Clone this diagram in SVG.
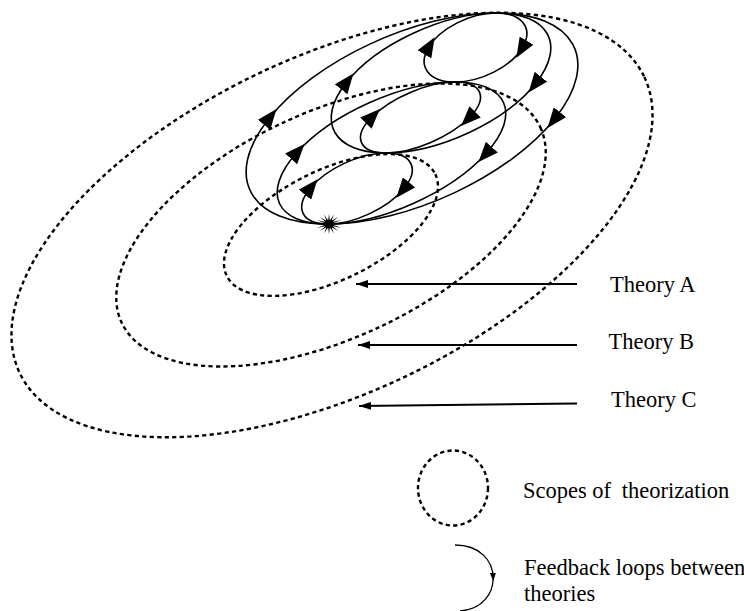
<svg xmlns="http://www.w3.org/2000/svg" width="744" height="611" viewBox="0 0 744 611">
<style>
.scope{fill:none;stroke:#000;stroke-width:2.4;stroke-dasharray:4.2 3.3}
.loop{fill:none;stroke:#000;stroke-width:1.6;marker-mid:url(#loopArrow)}
.pointer{fill:none;stroke:#000;stroke-width:2;marker-end:url(#thArrow)}
.legloop{fill:none;stroke:#000;stroke-width:1.3;marker-mid:url(#smallArrow)}
text{font-family:"Liberation Serif","Times New Roman",serif;font-size:22.5px;fill:#000}
</style>
<defs>
<marker id="loopArrow" markerUnits="userSpaceOnUse" viewBox="0 0 20 16" markerWidth="20" markerHeight="16" refX="8" refY="8" orient="auto"><path d="M0,0 L20,8 L0,16 z" fill="#000"/></marker>
<marker id="thArrow" markerUnits="userSpaceOnUse" viewBox="0 0 12 8" markerWidth="12" markerHeight="8" refX="12" refY="4" orient="auto"><path d="M0,0 L12,4 L0,8 z" fill="#000"/></marker>
<marker id="smallArrow" markerUnits="userSpaceOnUse" viewBox="0 0 8 6" markerWidth="8" markerHeight="6" refX="4" refY="3" orient="auto"><path d="M0,0 L8,3 L0,6 z" fill="#000"/></marker>
</defs>

<g id="scope-c"><ellipse class="scope" cx="332" cy="225" rx="345.6" ry="168.4" transform="rotate(-25.35 332 225)"/></g>
<g id="scope-b"><ellipse class="scope" cx="331" cy="225" rx="231" ry="113" transform="rotate(-25 331 225)"/></g>
<g id="scope-a"><ellipse class="scope" cx="331" cy="225" rx="116" ry="55" transform="rotate(-26 331 225)"/></g>

<g id="connectors">
<path class="loop" d="M328,224 C302,224 294,208.1 310,188.5 C326,168.9 360,153 386,153"/>
<path class="loop" d="M386,153 C412,153 420,168.9 404,188.5 C388,208.1 354,224 328,224"/>
<path class="loop" d="M386,153 C358.9,153 352.4,136.6 371.5,117.5 C390.6,97.9 427.9,82 455,82"/>
<path class="loop" d="M455,82 C482.1,82 488.6,97.9 469.5,117.5 C450.4,136.6 413.1,153 386,153"/>
<path class="loop" d="M455,82 C429,82 417.2,66.55 428.5,47.5 C439.8,28.45 470,13 496,13"/>
<path class="loop" d="M496,13 C522,13 533.8,28.45 522.5,47.5 C511.2,66.55 481,82 455,82"/>
<path class="loop" d="M328,224 C275.5,224 261.4,192.2 296.5,153 C331.6,113.8 402.5,82 455,82"/>
<path class="loop" d="M455,82 C507.5,82 521.6,113.8 486.5,153 C451.4,192.2 380.5,224 328,224"/>
<path class="loop" d="M386,153 C333.5,153 315.6,121.7 346,83 C376.4,44.3 443.5,13 496,13"/>
<path class="loop" d="M496,13 C548.5,13 566.4,44.3 536,83 C505.6,121.7 438.5,153 386,153"/>
<path class="loop" d="M328,224 C249,224 222.6,176.8 269,118.5 C315.4,60.2 417,13 496,13"/>
<path class="loop" d="M496,13 C575,13 601.4,60.2 555,118.5 C508.6,176.8 407,224 328,224"/>
<line class="pointer" x1="577" y1="284" x2="356" y2="284"/>
<line class="pointer" x1="577" y1="345" x2="358" y2="345"/>
<line class="pointer" x1="577" y1="403.5" x2="359" y2="406"/>
</g>

<g id="origin" transform="translate(329,224) scale(1.2)">
<polygon fill="#000" points="11,0 3.43,0.59 10.16,3.26 2.91,1.67 7.78,6.01 1.95,2.49 4.21,7.85 0.68,2.94 0,8.5 -0.68,2.94 -4.21,7.85 -1.95,2.49 -7.78,6.01 -2.91,1.67 -10.16,3.26 -3.43,0.59 -11,0 -3.43,-0.59 -10.16,-3.26 -2.91,-1.67 -7.78,-6.01 -1.95,-2.49 -4.21,-7.85 -0.68,-2.94 0,-8.5 0.68,-2.94 4.21,-7.85 1.95,-2.49 7.78,-6.01 2.91,-1.67 10.16,-3.26 3.43,-0.59"/>
<ellipse cx="0" cy="0" rx="4.5" ry="3.5" fill="#000"/>
</g>

<g id="label-theory-a"><text x="610" y="291.5">Theory A</text></g>
<g id="label-theory-b"><text x="608.5" y="348.5">Theory B</text></g>
<g id="label-theory-c"><text x="611" y="407">Theory C</text></g>

<g id="legend-scope">
<ellipse class="scope" cx="453" cy="488" rx="35" ry="37.5"/>
<text x="523" y="498">Scopes of <tspan dx="5">theorization</tspan></text>
</g>
<g id="legend-loop">
<path class="legloop" d="M455,545 C480,545 492.5,560.75 493.1,576.9 C493.75,593 482.5,609.5 460,611"/>
<text x="524" y="575" font-size="21.5">Feedback loops between</text>
<text x="524" y="601" font-size="21.5">theories</text>
</g>
</svg>
